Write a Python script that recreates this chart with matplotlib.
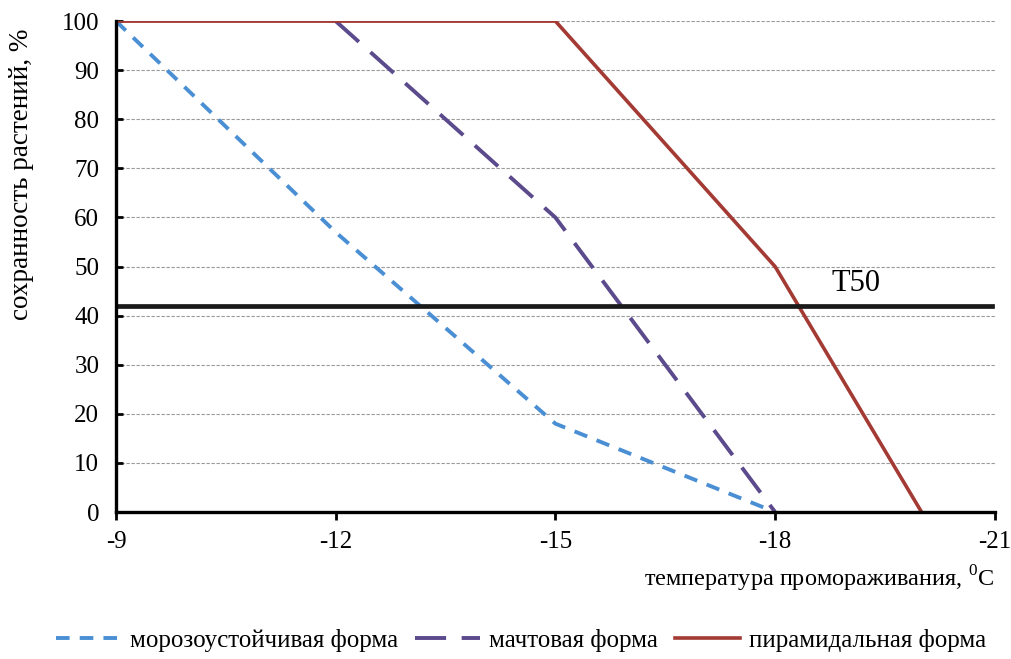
import numpy as np
import matplotlib.pyplot as plt

plt.rcParams['font.family'] = ['Liberation Serif', 'DejaVu Serif']
plt.rcParams['mathtext.fontset'] = 'custom'
plt.rcParams['mathtext.rm'] = 'Liberation Serif'
plt.rcParams['axes.unicode_minus'] = False

temps = [-9, -12, -15, -18, -20]
frost = [100, 57, 18, 0]          # морозоустойчивая
mast = [100, 60, 0]               # мачтовая
pyramid = [100, 100, 100, 50, 0]  # пирамидальная
t50 = 42
labels = ['морозоустойчивая форма', 'мачтовая форма', 'пирамидальная форма']

fig = plt.figure(figsize=(10.12, 6.59), dpi=100)
ax = fig.add_axes([0.1146, 0.223, 0.8684, 0.745])

ax.plot(temps[:4], frost, color='#4a8fd4', lw=2.8, dashes=(3.5, 2.6), label=labels[0])
ax.plot(temps[1:4], mast, color='#5b4a8c', lw=2.8, dashes=(8, 4), label=labels[1])
ax.plot(temps, pyramid, color='#a33a33', lw=2.6, label=labels[2])
ax.axhline(t50, color='#1a1a1a', lw=3.4, xmin=0, xmax=0.997)
ax.text(-19.1, t50 + 1.6, 'T50', fontsize=22, ha='center', va='bottom')

ax.set_xlim(-9, -21)
ax.set_ylim(0, 100)
ax.set_xticks([-9, -12, -15, -18, -21])
ax.set_yticks(np.arange(0, 101, 10))
ax.tick_params(axis='x', direction='out', length=6, width=2, labelsize=18, pad=8)
ax.tick_params(axis='y', direction='in', length=5, width=2, labelsize=18, pad=12)
ax.grid(axis='y', color='#999999', ls=(0, (3, 1.5)), lw=0.8)
ax.set_axisbelow(True)
for s in ['top', 'right']:
    ax.spines[s].set_visible(False)
for s in ['left', 'bottom']:
    ax.spines[s].set_linewidth(2.4)

ax.set_ylabel('сохранность растений, %', fontsize=19.5, ha='center', va='center')
ax.yaxis.set_label_coords(-0.107, 0.687)
fig.text(0.982, 0.122, r'температура промораживания, $^{0}$C', fontsize=17.5,
         ha='right', va='center')

fig.legend(loc='center', bbox_to_anchor=(0.515, 0.028), ncol=3, frameon=False,
           fontsize=18, handlelength=2.6, columnspacing=0.7, handletextpad=0.35)

fig.savefig('out.png', dpi=100)
